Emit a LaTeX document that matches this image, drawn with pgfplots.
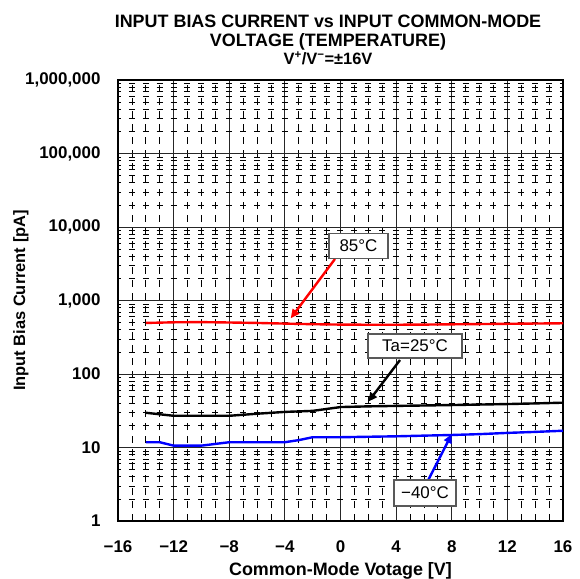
\documentclass[border=0pt]{standalone}
\usepackage{fontspec}
\setmainfont{Liberation Sans}
\usepackage{pgfplots}
\pgfplotsset{compat=1.18}
\usetikzlibrary{arrows.meta}
\begin{document}
\begin{tikzpicture}
\path[use as bounding box] (-118bp,-58bp) rectangle (462bp,521bp);
\begin{axis}[
  at={(0,0)}, anchor=south west,
  scale only axis, width=445bp, height=441bp,
  xmin=-16, xmax=16, ymode=log, ymin=1, ymax=1000000,
  xtick={-16,-12,...,16},
  xticklabels={−16,−12,−8,−4,0,4,8,12,16},
  minor x tick num=3,
  ytick={1,10,100,1000,10000,100000,1000000},
  yticklabels={1,10,100,{1,000},{10,000},{100,000},{1,000,000}},
  minor ytick={2,3,4,5,6,7,8,9,20,30,40,50,60,70,80,90,200,300,400,500,600,700,800,900,2000,3000,4000,5000,6000,7000,8000,9000,20000,30000,40000,50000,60000,70000,80000,90000,200000,300000,400000,500000,600000,700000,800000,900000},
  grid=both,
  major grid style={black!85, line width=0.9bp},
  minor x grid style={black, line width=0.7bp, dash pattern=on 7bp off 6bp},
  minor y grid style={black, line width=0.7bp, dash pattern=on 6bp off 7.9bp, dash phase=3bp},
  axis line style={line width=2.5bp},
  tick style={draw=none},
  ticklabel style={font=\fontsize{17}{19}\selectfont\bfseries},
  xticklabel style={yshift=-16bp},
  yticklabel style={xshift=-14bp},
  every axis x label/.style={at={(axis description cs:0.5,0)}, yshift=-50bp, anchor=center},
  every axis y label/.style={at={(axis description cs:0,0.5)}, xshift=-97bp, rotate=90, anchor=center},
  xlabel style={font=\fontsize{18}{20}\selectfont\bfseries},
  ylabel style={font=\fontsize{16.5}{18}\selectfont\bfseries},
  xlabel={Common-Mode Votage [V]},
  ylabel={Input Bias Current [pA]},
]
% 85 C
\addplot[red, line width=2.4bp] coordinates {
(-14,495) (-12,505) (-10,508) (-8,502) (-6,495) (-4,485) (-2,476) (0,470) (2,468) (4,468) (6,470) (8,474) (10,478) (12,482) (14,486) (16,490)};
% 25 C
\addplot[black, line width=2.4bp] coordinates {
(-14,29.7) (-12,27) (-10,27) (-8,27) (-6,28.8) (-4,30.5) (-2,31.5) (0,35.5) (2,36.3) (4,36.8) (6,37.3) (8,37.8) (10,38.4) (12,39) (14,39.8) (16,40.7)};
% -40 C
\addplot[blue, line width=2.4bp] coordinates {
(-14,11.8) (-13,11.8) (-12,10.6) (-10,10.6) (-8,11.8) (-4,11.8) (-3,12.6) (-2,13.8) (0,13.8) (2,14) (4,14.2) (6,14.5) (8,14.8) (10,15.2) (12,15.8) (14,16.3) (16,16.9)};
% annotations
\draw[red, line width=2.4bp, -{Triangle[length=9bp,width=8bp]}] (axis cs:-0.4,3670) -- (axis cs:-3.58,572);
\draw[black, line width=2.4bp, -{Triangle[length=9bp,width=8bp]}] (axis cs:4.28,155) -- (axis cs:2.0,42);
\draw[blue, line width=2.4bp, -{Triangle[length=9bp,width=8bp]}] (axis cs:6.31,3.61) -- (axis cs:8.0,15.2);
\node[draw=black!65, line width=1.2bp, fill=white, minimum width=59bp, minimum height=25bp, inner sep=0pt, font=\fontsize{17}{19}\selectfont] at (axis cs:1.29,5510) {85°C};
\node[draw=black!65, line width=1.2bp, fill=white, minimum width=94bp, minimum height=24bp, inner sep=0pt, font=\fontsize{17}{19}\selectfont] at (axis cs:5.36,240) {Ta=25°C};
\node[draw=black!65, line width=1.2bp, fill=white, minimum width=62bp, minimum height=26bp, inner sep=0pt, font=\fontsize{17}{19}\selectfont] at (axis cs:6.08,2.40) {−40°C};
\end{axis}
\node[anchor=base, font=\fontsize{18}{20}\selectfont\bfseries] at (210bp,493bp) {INPUT BIAS CURRENT vs INPUT COMMON-MODE};
\node[anchor=base, font=\fontsize{18}{20}\selectfont\bfseries] at (210bp,474bp) {VOLTAGE (TEMPERATURE)};
\node[anchor=base, font=\fontsize{16.5}{18}\selectfont\bfseries] at (210bp,456bp) {V\textsuperscript{+}/V\textsuperscript{−}=±16V};
\end{tikzpicture}
\end{document}
